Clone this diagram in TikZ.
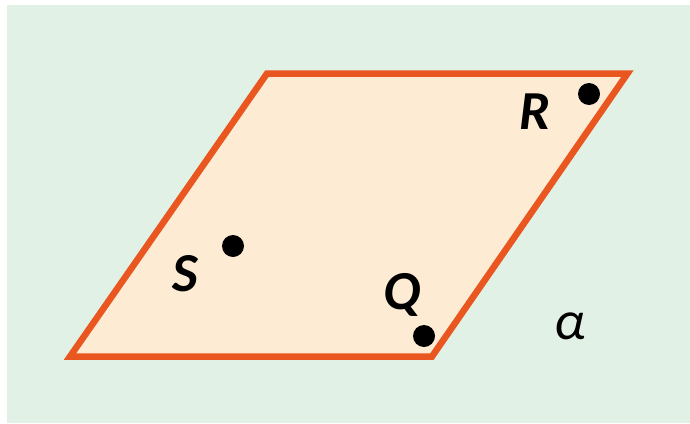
\documentclass[tikz,border=0pt]{standalone}
\usepackage{fontspec}
\setmainfont{Carlito}
\definecolor{bggreen}{HTML}{E2F1E6}
\definecolor{planefill}{HTML}{FDEBD3}
\definecolor{planeedge}{HTML}{E9561F}
\begin{document}
\begin{tikzpicture}[x=1pt,y=-1pt,
  pt/.style={circle,fill=black,inner sep=0pt,minimum size=22pt},
  lbl/.style={font=\fontsize{55}{55}\selectfont\bfseries\itshape,inner sep=0pt}]
\useasboundingbox (0,0) rectangle (690,423);
\fill[bggreen] (7,5) rectangle (690,423);
\coordinate (A) at (70,356.5);
\coordinate (B) at (432,356.5);
\coordinate (C) at (627.5,73.5);
\coordinate (D) at (267,73.5);
\draw[planeedge,fill=planefill,line width=6.5pt,line join=miter] (A) -- (B) -- (C) -- (D) -- cycle;
\node[pt] (R) at (589,94) {};
\node[pt] (Q) at (424,336) {};
\node[pt] (S) at (233,246) {};
\node[lbl] (Rl) at (535,112) {R};
\node[lbl] (Ql) at (402,295) {Q};
\node[lbl] (Sl) at (185,274) {S};
\node[font=\fontsize{55}{55}\selectfont\itshape,inner sep=0pt] (al) at (570,326) {α};
\end{tikzpicture}
\end{document}
